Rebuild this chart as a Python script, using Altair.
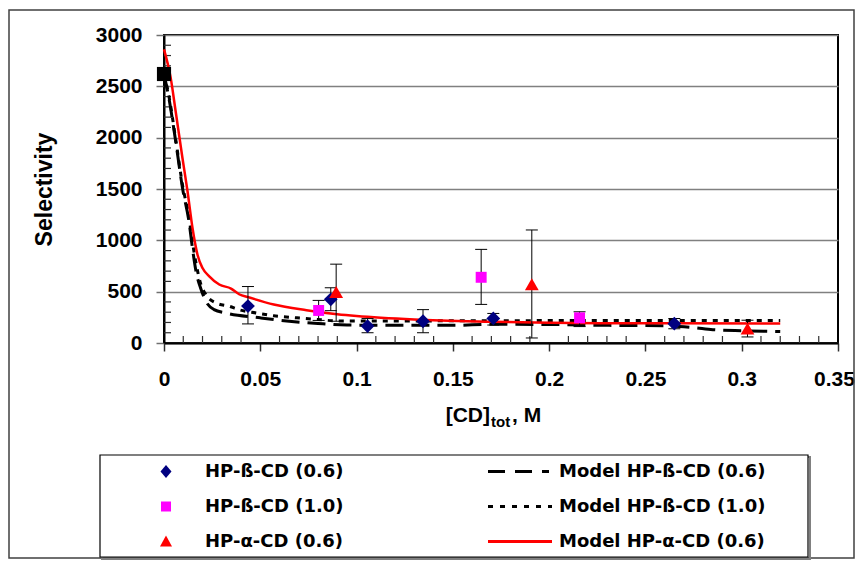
import altair as alt
import pandas as pd

# ---------------- data ----------------
# Experimental points (x = [CD]tot in M, y = selectivity, lo/hi = error bar ends)
b06_x = [0.0436, 0.0866, 0.1057, 0.1345, 0.171, 0.265]
b06_y = [360, 425, 165, 212, 239, 188]
b06_lo = [186, 315, 100, 100, 175, 140]
b06_hi = [550, 538, 238, 325, 288, 238]

b10_x = [0.0803, 0.1647, 0.2158]
b10_y = [317, 640, 245]
b10_lo = [220, 376, 160]
b10_hi = [415, 912, 304]

a06_x = [0.0894, 0.191, 0.303]
a06_y = [497, 572, 140]
a06_lo = [212, 49, 59]
a06_hi = [768, 1101, 222]

start_x = [0.0]
start_y = [2620]

# Model curves
mb06_x = [0, 0.0026, 0.0061, 0.0096, 0.013, 0.0148, 0.0166, 0.019, 0.0218, 0.026, 0.032,
          0.05, 0.065, 0.08, 0.095, 0.12, 0.15, 0.17, 0.2, 0.23, 0.26, 0.275, 0.285, 0.3, 0.32]
mb06_y = [2620, 2380, 1960, 1510, 1180, 920, 700, 535, 405, 325, 292,
          245, 212, 190, 175, 172, 172, 182, 180, 172, 168, 150, 130, 120, 112]

mb10_x = [0, 0.0026, 0.0061, 0.0096, 0.013, 0.0148, 0.0166, 0.019, 0.0218, 0.027, 0.034,
          0.039, 0.048, 0.057, 0.069, 0.079, 0.091, 0.12, 0.2, 0.32]
mb10_y = [2620, 2400, 1980, 1540, 1220, 980, 780, 580, 470, 390, 357,
          324, 292, 265, 245, 230, 215, 215, 218, 218]

ma06_x = [0, 0.0035, 0.0061, 0.0096, 0.0122, 0.0148, 0.0174, 0.02, 0.0235, 0.0287, 0.0348,
          0.039, 0.044, 0.057, 0.074, 0.09, 0.1, 0.13, 0.17, 0.2, 0.25, 0.32]
ma06_y = [2860, 2580, 2250, 1800, 1480, 1120, 860, 730, 650, 570, 530,
          475, 445, 375, 320, 280, 262, 228, 207, 197, 192, 190]

# Axis tick values
x_ticks = [0, 0.05, 0.1, 0.15, 0.2, 0.25, 0.3, 0.35]
y_ticks = [0, 500, 1000, 1500, 2000, 2500, 3000]
x_minor = [0.01, 0.02, 0.03, 0.04, 0.06, 0.07, 0.08, 0.09, 0.11, 0.12, 0.13, 0.14,
           0.16, 0.17, 0.18, 0.19, 0.21, 0.22, 0.23, 0.24, 0.26, 0.27, 0.28, 0.29,
           0.31, 0.32, 0.33, 0.34]
y_minor = [100, 200, 300, 400, 600, 700, 800, 900, 1100, 1200, 1300, 1400,
           1600, 1700, 1800, 1900, 2100, 2200, 2300, 2400, 2600, 2700, 2800, 2900]

# Legend entries (column-major order for a 2-column legend)
leg_names = ["HP-ß-CD (0.6)", "HP-ß-CD (1.0)", "HP-α-CD (0.6)",
             "Model HP-ß-CD (0.6)", "Model HP-ß-CD (1.0)", "Model HP-α-CD (0.6)"]
leg_colors = ["#000080", "#FF00FF", "#FF0000", "#000000", "#000000", "#FF0000"]
leg_shapes = [
    "M0,-1.3L1.1,0L0,1.3L-1.1,0Z",
    "M-1,-1H1V1H-1Z",
    "M0,-1.2L1.2,1L-1.2,1Z",
    "M-6.4,-0.3H-3V0.3H-6.4Z M-1,-0.3H2.4V0.3H-1Z M4.4,-0.3H5.8V0.3H4.4Z",
    "M-6.4,-0.3H-5.4V0.3H-6.4Z M-4,-0.3H-3V0.3H-4Z M-1.6,-0.3H-0.6V0.3H-1.6Z "
    "M0.8,-0.3H1.8V0.3H0.8Z M3.2,-0.3H4.2V0.3H3.2Z M5.6,-0.3H6.4V0.3H5.6Z",
    "M-6.4,-0.3H6.4V0.3H-6.4Z",
]

# ---------------- build tables ----------------
pts = pd.DataFrame({
    "x": b06_x + b10_x + a06_x,
    "y": b06_y + b10_y + a06_y,
    "lo": b06_lo + b10_lo + a06_lo,
    "hi": b06_hi + b10_hi + a06_hi,
    "series": ["b06"] * len(b06_x) + ["b10"] * len(b10_x) + ["a06"] * len(a06_x),
})
start_df = pd.DataFrame({"x": start_x, "y": start_y})
mb06 = pd.DataFrame({"x": mb06_x, "y": mb06_y})
mb10 = pd.DataFrame({"x": mb10_x, "y": mb10_y})
ma06 = pd.DataFrame({"x": ma06_x, "y": ma06_y})
xminor_df = pd.DataFrame({"x": x_minor})
yminor_df = pd.DataFrame({"y": y_minor})
legend_df = pd.DataFrame({"series": leg_names, "x": [0.0] * 6, "y": [0.0] * 6})
one = pd.DataFrame({"a": [0]})

FONT = "Liberation Sans"

xs = alt.Scale(domain=[0, 0.35], nice=False, zero=False)
ys = alt.Scale(domain=[0, 3000], nice=False)

X = alt.X("x:Q", scale=xs, axis=alt.Axis(
    values=x_ticks, format="~g", grid=False, title=None, labelFlush=False,
    labelOffset={"condition": {"test": "datum.value > 0.34", "value": -4}, "value": 0},
    labelPadding=17, tickSize=8, tickColor="#303030"))
Y = alt.Y("y:Q", scale=ys, axis=alt.Axis(
    values=y_ticks, format="d", grid=True, gridColor="#808080", gridWidth=1.5,
    title="Selectivity", titleFontSize=23, titlePadding=39, labelPadding=14,
    tickSize=8, tickColor="#707070"))

base_pts = alt.Chart(pts)

frame = alt.Chart(one).mark_rect(filled=False, stroke="#404040", strokeWidth=1.5).encode(
    x=alt.value(-155), x2=alt.value(690), y=alt.value(-25), y2=alt.value(523))
legbox_shadow = alt.Chart(one).mark_rect(filled=False, stroke="#808080", strokeWidth=2).encode(
    x=alt.value(-62), x2=alt.value(646), y=alt.value(422), y2=alt.value(524))
legbox = alt.Chart(one).mark_rect(fill="white", stroke="#000000", strokeWidth=1.2).encode(
    x=alt.value(-64), x2=alt.value(644), y=alt.value(420), y2=alt.value(522))

xminor = alt.Chart(xminor_df).mark_tick(orient="vertical", size=7, thickness=1.2,
                                        color="#303030", opacity=1).encode(
    x=alt.X("x:Q", scale=xs), y=alt.value(304.5))
yminor = alt.Chart(yminor_df).mark_tick(orient="horizontal", size=7, thickness=1.2,
                                        color="#303030", opacity=1).encode(
    y=alt.Y("y:Q", scale=ys), x=alt.value(3.5))

err = base_pts.mark_rule(color="black", strokeWidth=1).encode(
    x=X, y=alt.Y("lo:Q", scale=ys), y2="hi:Q")
cap_lo = base_pts.mark_tick(orient="horizontal", size=12, thickness=1, color="black", opacity=1).encode(
    x=alt.X("x:Q", scale=xs), y=alt.Y("lo:Q", scale=ys))
cap_hi = base_pts.mark_tick(orient="horizontal", size=12, thickness=1, color="black", opacity=1).encode(
    x=alt.X("x:Q", scale=xs), y=alt.Y("hi:Q", scale=ys))

l_b06 = alt.Chart(mb06).mark_line(color="black", strokeWidth=3, strokeDash=[18, 8],
                                  interpolate="monotone").encode(x=X, y=Y)
l_b10 = alt.Chart(mb10).mark_line(color="black", strokeWidth=3, strokeDash=[5, 6],
                                  interpolate="monotone").encode(x=X, y=Y)
l_a06 = alt.Chart(ma06).mark_line(color="#FF0000", strokeWidth=2.5,
                                  interpolate="monotone").encode(x=X, y=Y)

p_b06 = base_pts.transform_filter("datum.series == 'b06'").mark_point(
    filled=True, opacity=1, shape="diamond", size=190, color="#000080").encode(x=X, y=Y)
p_b10 = base_pts.transform_filter("datum.series == 'b10'").mark_point(
    filled=True, opacity=1, shape="square", size=120, color="#FF00FF").encode(x=X, y=Y)
p_a06 = base_pts.transform_filter("datum.series == 'a06'").mark_point(
    filled=True, opacity=1, shape="triangle-up", size=190, color="#FF0000").encode(x=X, y=Y)
p_start = alt.Chart(start_df).mark_point(
    filled=True, opacity=1, shape="square", size=200, color="black").encode(x=X, y=Y)

leg = alt.Legend(title=None, orient="none", legendX=-7, legendY=427.5, columns=2,
                 columnPadding=144, rowPadding=17, padding=0, symbolSize=100,
                 symbolStrokeWidth=0, symbolOpacity=1, labelOffset=30, labelLimit=400,
                 labelFont="DejaVu Sans", labelFontWeight="bold", labelFontSize=18,
                 labelColor="black", symbolType="circle")
legend_layer = alt.Chart(legend_df).transform_filter("false").mark_point(
    filled=True, opacity=1, strokeWidth=0).encode(
    x=X, y=Y,
    color=alt.Color("series:N", scale=alt.Scale(domain=leg_names, range=leg_colors), legend=leg),
    shape=alt.Shape("series:N", scale=alt.Scale(domain=leg_names, range=leg_shapes), legend=leg),
)

def txt(s, xv, yv, size, align):
    return alt.Chart(one).mark_text(text=s, align=align, baseline="alphabetic", font=FONT,
                                    fontWeight="bold", fontSize=size, color="black").encode(
        x=alt.value(xv), y=alt.value(yv))

t1 = txt("[CD]", 326, 387, 21, "right")
t2 = txt("tot", 327, 392, 15, "left")
t3 = txt(", M", 348, 387, 21, "left")

chart = alt.layer(
    frame, legbox_shadow, legbox, xminor, yminor,
    l_b06, l_b10, l_a06,
    err, cap_lo, cap_hi,
    p_b06, p_b10, p_a06, p_start,
    legend_layer, t1, t2, t3,
).properties(
    width=674, height=308,
    autosize=alt.AutoSizeParams(type="none"),
    padding={"left": 156, "top": 27, "right": 17, "bottom": 218},
).configure_view(
    stroke="black", strokeWidth=2
).configure_axis(
    domainColor="black", domainWidth=2,
    labelFont=FONT, labelFontWeight="bold", labelFontSize=21, labelColor="black",
    titleFont=FONT, titleFontWeight="bold", titleColor="black", tickWidth=1.5,
)

chart.save("out.html", embed_options={"renderer": "svg", "actions": False})
